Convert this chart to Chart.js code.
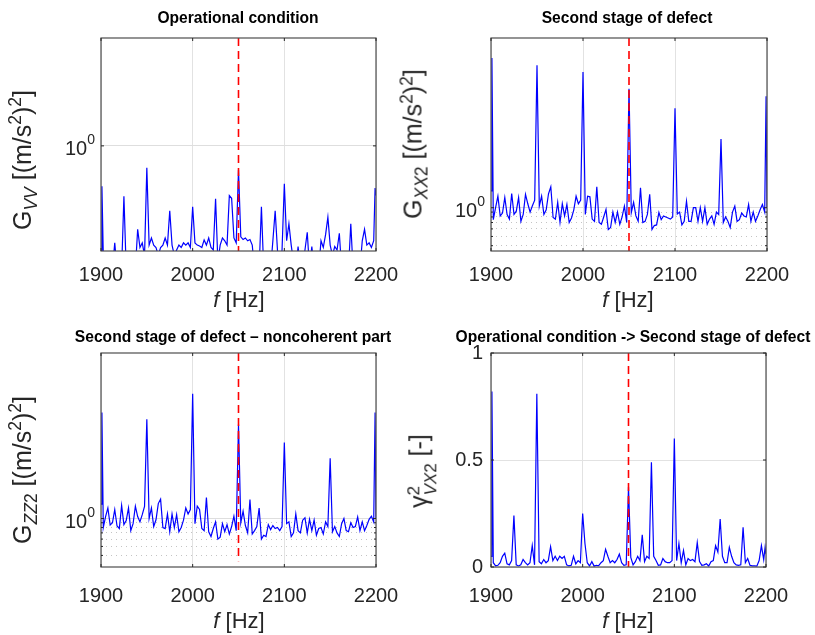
<!DOCTYPE html>
<html>
<head>
<meta charset="utf-8">
<script src="https://cdn.jsdelivr.net/npm/chart.js@4.4.1/dist/chart.umd.min.js"></script>
<style>
body { margin: 0; background: #fff; width: 815px; height: 635px; overflow: hidden; position: relative;
       font-family: "Liberation Sans", Arial, sans-serif; }
canvas.plot { position: absolute; left: 0; top: 0; }
.ttl { position: absolute; transform: translate(-50%, -50%); font-weight: bold; font-size: 15.6px; color: #000; white-space: nowrap; }
.xl { position: absolute; transform: translate(-50%, -50%); font-size: 22px; color: #262626; white-space: nowrap; }
.yl { position: absolute; transform: translate(-50%, -50%) rotate(-90deg); font-size: 25px; color: #262626; white-space: nowrap; }
sub, sup { font-size: 0.7em; line-height: 0; }
.ss { display: inline-flex; flex-direction: column; font-size: 0.68em; line-height: 1; vertical-align: 0.45em; }
</style>
</head>
<body>

<canvas id="cVV" class="plot" width="815" height="635"></canvas>
<canvas id="cXX" class="plot" width="815" height="635"></canvas>
<canvas id="cZZ" class="plot" width="815" height="635"></canvas>
<canvas id="cCoh" class="plot" width="815" height="635"></canvas>

<div class="ttl" style="left:238px;top:18px">Operational condition</div>
<div class="ttl" style="left:627px;top:18px">Second stage of defect</div>
<div class="ttl" style="left:233px;top:337px">Second stage of defect – noncoherent part</div>
<div class="ttl" style="left:633px;top:337px">Operational condition -&gt; Second stage of defect</div>

<div class="xl" style="left:239px;top:300px"><i>f</i> [Hz]</div>
<div class="xl" style="left:628px;top:300px"><i>f</i> [Hz]</div>
<div class="xl" style="left:239px;top:621px"><i>f</i> [Hz]</div>
<div class="xl" style="left:628px;top:621px"><i>f</i> [Hz]</div>

<div class="yl" style="left:22px;top:160px">G<sub><i>VV</i></sub> [(m/s<sup>2</sup>)<sup>2</sup>]</div>
<div class="yl" style="left:413px;top:144px">G<sub><i>XX</i>2</sub> [(m/s<sup>2</sup>)<sup>2</sup>]</div>
<div class="yl" style="left:22px;top:470px">G<sub><i>ZZ</i>2</sub> [(m/s<sup>2</sup>)<sup>2</sup>]</div>
<div class="yl" style="left:422px;top:471px">γ<span class="ss"><span>2</span><span><i>VX</i>2</span></span> [-]</div>

<script>
/* ================= DATA ================= */
const freq = [
    1900, 1901, 1902.5, 1905, 1907.5, 1910, 1912.5, 1915, 1917.5, 1920, 1922.5,
    1925, 1927.5, 1930, 1932.5, 1935, 1937.5, 1940, 1942.5, 1945, 1947.5,
    1950, 1952.5, 1955, 1957.5, 1960, 1962.5, 1965, 1967.5, 1970, 1972.5,
    1975, 1977.5, 1980, 1982.5, 1985, 1987.5, 1990, 1992.5, 1995, 1997.5,
    2000, 2002.5, 2005, 2007.5, 2010, 2012.5, 2015, 2017.5, 2020, 2022.5,
    2025, 2027.5, 2030, 2032.5, 2035, 2037.5, 2040, 2042.5, 2045, 2047.5,
    2050, 2052.5, 2055, 2057.5, 2060, 2062.5, 2065, 2067.5, 2070, 2072.5,
    2075, 2077.5, 2080, 2082.5, 2085, 2087.5, 2090, 2092.5, 2095, 2097.5,
    2100, 2102.5, 2105, 2107.5, 2110, 2112.5, 2115, 2117.5, 2120, 2122.5,
    2125, 2127.5, 2130, 2132.5, 2135, 2137.5, 2140, 2142.5, 2145, 2147.5,
    2150, 2152.5, 2155, 2157.5, 2160, 2162.5, 2165, 2167.5, 2170, 2172.5,
    2175, 2177.5, 2180, 2182.5, 2185, 2187.5, 2190, 2192.5, 2195, 2197.5,
    2199, 2200
];

// operational condition, G_VV
const gVV = [
    0.05, 0.375, 0.07, 0.05, 0.05, 0.05, 0.05, 0.095, 0.05, 0.05, 0.05,
    0.294, 0.05, 0.05, 0.05, 0.05, 0.05, 0.132, 0.085, 0.095, 0.07,
    0.587, 0.09, 0.107, 0.09, 0.085, 0.07, 0.085, 0.09, 0.107, 0.09,
    0.207, 0.09, 0.07, 0.08, 0.09, 0.085, 0.095, 0.09, 0.095, 0.085,
    0.228, 0.095, 0.09, 0.088, 0.085, 0.102, 0.09, 0.107, 0.085, 0.08,
    0.277, 0.06, 0.09, 0.107, 0.1, 0.09, 0.30, 0.28, 0.107, 0.095,
    0.56, 0.11, 0.103, 0.107, 0.1, 0.103, 0.09, 0.05, 0.05, 0.05,
    0.228, 0.05, 0.05, 0.05, 0.05, 0.10, 0.207, 0.08, 0.05, 0.08,
    0.398, 0.1, 0.151, 0.09, 0.06, 0.05, 0.087, 0.05, 0.05, 0.08,
    0.123, 0.05, 0.087, 0.05, 0.05, 0.05, 0.1, 0.085, 0.116, 0.177,
    0.09, 0.07, 0.087, 0.08, 0.12, 0.05, 0.05, 0.05, 0.05, 0.151,
    0.05, 0.05, 0.05, 0.05, 0.1, 0.132, 0.09, 0.095, 0.085, 0.1,
    0.36, 0.3
];

// second stage of defect, G_XX2
const gXX2 = [
    1.5, 37, 0.75, 1.0, 1.32, 0.82, 0.88, 1.28, 0.85, 0.76, 1.41,
    0.85, 0.92, 1.28, 0.72, 0.85, 1.38, 1.1, 0.9, 1.05, 1.2,
    31, 1.04, 1.32, 0.85, 0.95, 1.4, 1.66, 0.79, 0.76, 1.14,
    0.70, 1.1, 0.82, 1.08, 0.70, 0.78, 0.95, 1.32, 1.1, 1.2,
    26.4, 0.85, 1.32, 1.3, 0.76, 0.72, 1.66, 0.70, 0.67, 0.8,
    0.96, 0.59, 0.62, 0.9, 0.7, 0.9, 0.67, 0.8, 1.04, 0.70,
    17.6, 0.89, 1.14, 0.82, 0.72, 1.62, 0.70, 0.72, 0.85, 1.38,
    0.59, 0.65, 0.66, 0.89, 0.75, 0.82, 0.80, 0.78, 0.76, 0.8,
    11.0, 0.86, 0.9, 0.66, 0.72, 1.17, 0.72, 0.72, 1.0, 1.0,
    0.72, 1.0, 0.72, 1.0, 0.67, 0.76, 0.82, 0.67, 0.9, 0.85,
    5.24, 0.70, 0.8, 0.72, 0.62, 0.9, 1.04, 0.72, 0.75, 0.88,
    0.82, 0.8, 1.08, 0.72, 0.9, 0.72, 0.82, 0.95, 1.08, 0.9,
    14.7, 1.0
];

// second stage of defect, noncoherent part G_ZZ2
const gZZ2 = [
    1.43, 13.9, 0.8, 1.05, 1.3, 0.85, 0.9, 1.25, 0.83, 0.78, 1.38,
    0.86, 0.95, 1.3, 0.74, 0.88, 1.36, 1.05, 0.92, 1.1, 1.35,
    11.8, 1.0, 1.3, 0.82, 0.97, 1.45, 1.62, 0.8, 0.78, 1.12,
    0.72, 1.12, 0.8, 1.1, 0.72, 0.8, 0.96, 1.3, 1.12, 1.25,
    22.1, 0.88, 1.36, 1.25, 0.78, 0.74, 1.68, 0.72, 0.64, 0.78,
    0.92, 0.6, 0.63, 0.88, 0.72, 0.86, 0.68, 0.82, 1.06, 0.74,
    10.4, 0.9, 1.2, 0.84, 0.7, 1.6, 0.68, 0.74, 0.82, 1.3,
    0.6, 0.66, 0.64, 0.86, 0.76, 0.84, 0.78, 0.8, 0.74, 0.82,
    6.6, 0.88, 0.92, 0.64, 0.7, 1.12, 0.74, 0.7, 0.96, 1.02,
    0.7, 0.98, 0.74, 0.96, 0.66, 0.78, 0.8, 0.68, 0.92, 0.82,
    4.47, 0.72, 0.82, 0.7, 0.64, 0.88, 1.0, 0.74, 0.72, 0.9,
    0.8, 0.82, 1.04, 0.74, 0.92, 0.74, 0.84, 0.98, 1.06, 0.92,
    13.9, 1.0
];

// coherence operational -> second stage, gamma^2_VX2
const cohVX2 = [
    0.05, 0.82, 0.02, 0.005, 0.008, 0.02, 0.05, 0.065, 0.015, 0.01, 0.03,
    0.24, 0.01, 0.005, 0.01, 0.035, 0.02, 0.01, 0.02, 0.10, 0.01,
    0.81, 0.025, 0.015, 0.035, 0.02, 0.03, 0.095, 0.03, 0.05, 0.03,
    0.05, 0.04, 0.05, 0.01, 0.005, 0.008, 0.05, 0.015, 0.03, 0.02,
    0.25, 0.11, 0.02, 0.005, 0.025, 0.004, 0.008, 0.006, 0.02, 0.03,
    0.083, 0.05, 0.02, 0.03, 0.02, 0.035, 0.06, 0.02, 0.008, 0.01,
    0.374, 0.045, 0.01, 0.025, 0.05, 0.03, 0.15, 0.025, 0.05, 0.04,
    0.49, 0.05, 0.03, 0.008, 0.01, 0.04, 0.025, 0.02, 0.02, 0.03,
    0.60, 0.03, 0.11, 0.02, 0.077, 0.01, 0.04, 0.03, 0.035, 0.025,
    0.114, 0.025, 0.008, 0.01, 0.015, 0.005, 0.025, 0.03, 0.10, 0.07,
    0.224, 0.05, 0.02, 0.02, 0.092, 0.05, 0.02, 0.01, 0.008, 0.01,
    0.185, 0.02, 0.04, 0.008, 0.005, 0.005, 0.004, 0.03, 0.10, 0.035,
    0.092, 0.06
];

const markerFreq = 2050;
const xTicks = [1900, 2000, 2100, 2200];
const logMinor = [0.9, 0.8, 0.7, 0.6, 0.5, 0.4];

/* ================= HELPERS ================= */
const AXIS_COLOR = "#262626";
const FONT = "'Liberation Sans', Arial, sans-serif";
const Y_BOX = 60;   // space kept for y tick labels
const X_BOX = 50;   // space kept for x tick labels

function toPoints(ys) {
    return freq.map((f, i) => ({ x: f, y: ys[i] }));
}

// box round the axes + inward tick marks, like matlab
const boxPlugin = {
    id: "box",
    afterDraw(chart) {
        const { ctx, chartArea: a, scales } = chart;
        ctx.save();
        ctx.strokeStyle = "#4d4d4d";
        ctx.lineWidth = 1.2;
        ctx.strokeRect(a.left, a.top, a.right - a.left, a.bottom - a.top);

        ctx.strokeStyle = AXIS_COLOR;
        ctx.lineWidth = 1;
        ctx.beginPath();
        scales.x.ticks.forEach(t => {
            const px = scales.x.getPixelForValue(t.value);
            ctx.moveTo(px, a.bottom); ctx.lineTo(px, a.bottom - 3);
            ctx.moveTo(px, a.top); ctx.lineTo(px, a.top + 3);
        });
        scales.y.ticks.forEach(t => {
            const py = scales.y.getPixelForValue(t.value);
            const len = t.major === false ? 2 : 3;
            ctx.moveTo(a.left, py); ctx.lineTo(a.left + len, py);
            ctx.moveTo(a.right, py); ctx.lineTo(a.right - len, py);
        });
        ctx.stroke();
        ctx.restore();
    }
};

// "10^0" label on the log axes
const powerLabelPlugin = {
    id: "powerLabel",
    afterDraw(chart) {
        if (chart.scales.y.type !== "logarithmic") return;
        const { ctx, chartArea: a, scales } = chart;
        const py = scales.y.getPixelForValue(1);
        ctx.save();
        ctx.fillStyle = AXIS_COLOR;
        ctx.textAlign = "right";
        ctx.textBaseline = "alphabetic";
        ctx.font = "14px " + FONT;
        const xr = a.left - 6;
        ctx.fillText("0", xr, py - 2);
        const w = ctx.measureText("0").width;
        ctx.font = "20px " + FONT;
        ctx.fillText("10", xr - w, py + 9);
        ctx.restore();
    }
};

function xScale(labelPad) {
    return {
        type: "linear",
        min: 1900,
        max: 2200,
        afterBuildTicks: axis => { axis.ticks = xTicks.map(v => ({ value: v })); },
        afterFit: axis => { axis.height = X_BOX; },
        grid: { color: "#e2e2e2", lineWidth: 1, drawTicks: false },
        border: { display: false },
        ticks: {
            padding: labelPad,
            maxRotation: 0,
            autoSkip: false,
            color: AXIS_COLOR,
            font: { family: FONT, size: 20 },
            callback: v => String(v)
        }
    };
}

function logYScale(min, max, minor) {
    return {
        type: "logarithmic",
        min: min,
        max: max,
        afterBuildTicks: axis => {
            axis.ticks = [{ value: 1, major: true }].concat(minor.map(v => ({ value: v, major: false })));
        },
        afterFit: axis => { axis.width = Y_BOX; },
        grid: {
            drawTicks: false,
            lineWidth: 1,
            color: c => (c.tick && c.tick.value === 1) ? "#dedede" : "#c4c4c4"
        },
        border: {
            display: false,
            dash: c => (c.tick && c.tick.value !== 1) ? [1, 4] : []
        },
        ticks: { display: false }
    };
}

function makeChart(id, ys, yScale, area, labelPad) {
    const yMin = yScale.min, yMax = yScale.max;
    return new Chart(document.getElementById(id), {
        type: "line",
        data: {
            datasets: [
                {
                    data: [{ x: markerFreq, y: yMax }, { x: markerFreq, y: yMin }],
                    borderColor: "#ff0000",
                    borderWidth: 1.6,
                    borderDash: [8, 5],
                    pointRadius: 0
                },
                {
                    data: toPoints(ys),
                    borderColor: "#0000ff",
                    borderWidth: 1.2,
                    pointRadius: 0,
                    tension: 0
                }
            ]
        },
        options: {
            responsive: false,
            animation: false,
            devicePixelRatio: 1,
            layout: {
                padding: {
                    left: area.left - Y_BOX,
                    top: area.top,
                    right: 815 - area.right,
                    bottom: 635 - area.bottom - X_BOX
                }
            },
            scales: { x: xScale(labelPad), y: yScale },
            plugins: { legend: { display: false }, tooltip: { enabled: false } }
        },
        plugins: [boxPlugin, powerLabelPlugin]
    });
}

/* ================= CHARTS ================= */
makeChart("cVV", gVV, logYScale(0.078, 13.7, []),
    { left: 101, right: 376, top: 38, bottom: 251 }, 12);

makeChart("cXX", gXX2, logYScale(0.352, 60, logMinor),
    { left: 491, right: 767, top: 38, bottom: 251 }, 12);

makeChart("cZZ", gZZ2, logYScale(0.345, 61, logMinor),
    { left: 101, right: 376, top: 353, bottom: 567 }, 17);

makeChart("cCoh", cohVX2, {
        type: "linear",
        min: 0,
        max: 1,
        afterBuildTicks: axis => { axis.ticks = [0, 0.5, 1].map(v => ({ value: v })); },
        afterFit: axis => { axis.width = Y_BOX; },
        grid: { color: "#e2e2e2", lineWidth: 1, drawTicks: false },
        border: { display: false },
        ticks: {
            padding: 8,
            color: AXIS_COLOR,
            font: { family: FONT, size: 20 },
            callback: v => String(v)
        }
    },
    { left: 491, right: 766, top: 353, bottom: 567 }, 17);
</script>
</body>
</html>
